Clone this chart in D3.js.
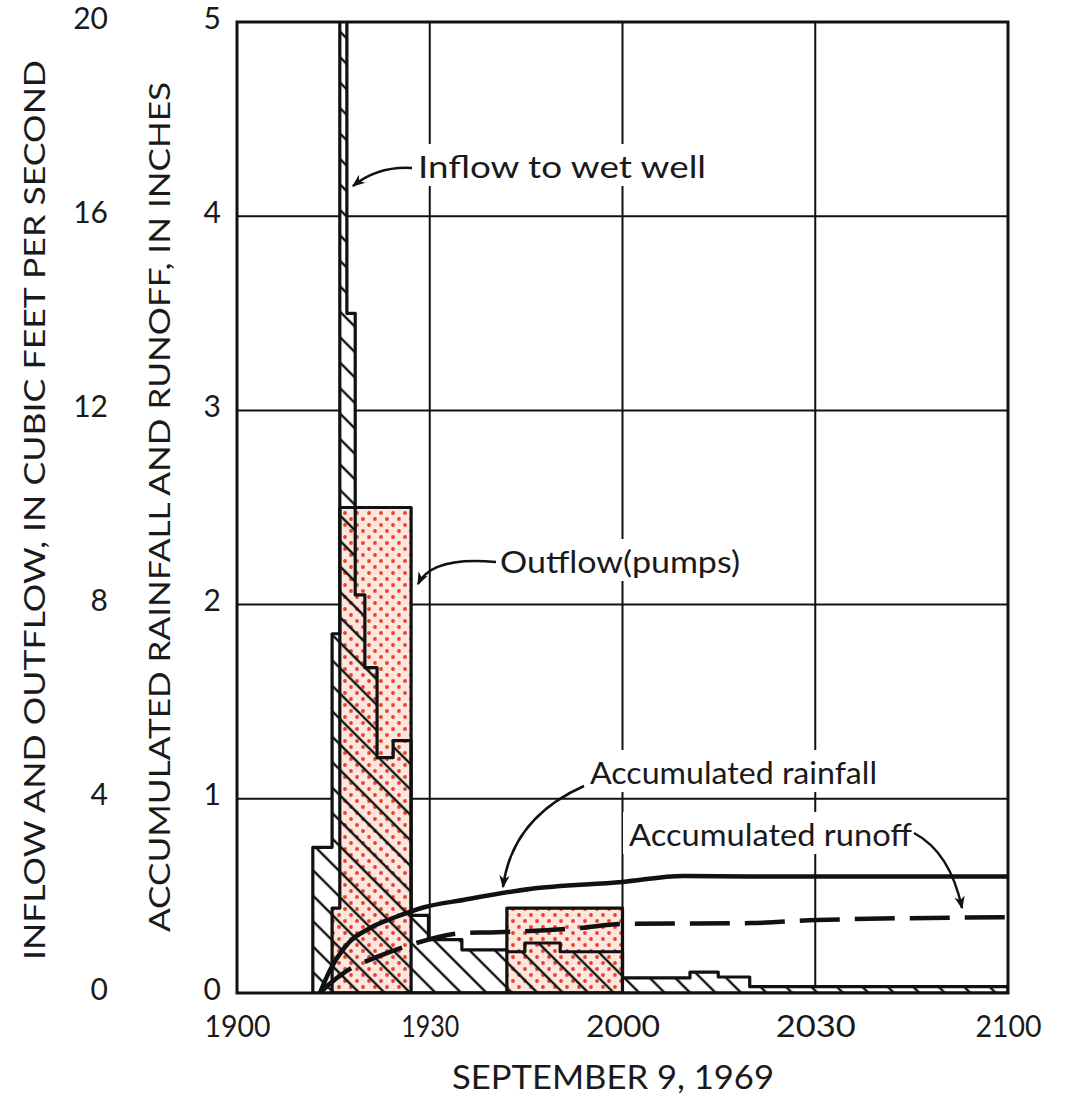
<!DOCTYPE html>
<html>
<head>
<meta charset="utf-8">
<script src="https://cdn.jsdelivr.net/npm/d3@7"></script>
<style>
  body { margin: 0; background: #fff; }
  text { font-family: Lato, 'DejaVu Sans', sans-serif; fill: #1a1a1a; }
</style>
</head>
<body>
<script>
// chart data (time in minutes after 1900)
var inflowTime = [11.8, 14.8, 16.0, 17.1, 18.4, 19.9, 21.8, 24.3, 27.1, 29.8, 35.0, 42.0, 44.8, 50.3, 60.0, 70.5, 74.9, 79.8, 120];
var inflowCfs  = [3.0, 7.4, 30, 14.0, 8.2, 6.7, 4.85, 5.2, 1.6, 1.1, 0.89, 0.85, 1.03, 0.85, 0.31, 0.43, 0.33, 0.13, 0.13];

var outflowTime = [14.8, 16.0, 27.1, 42.0, 60.0];
var outflowCfs  = [1.75, 10.0, 0, 1.75, 0];

var rainTime = [12.9, 14.5, 16.8, 21.0, 24.6, 29.3, 35.2, 45.6, 60.0, 69.4, 80, 120];
var rainIn   = [0, 0.12, 0.237, 0.34, 0.39, 0.443, 0.479, 0.536, 0.572, 0.603, 0.60, 0.60];

var runoffTime = [12.9, 14.2, 16.8, 21.8, 26.9, 35.2, 39.4, 53.4, 60.0, 79.8, 90.3, 120];
var runoffIn   = [0, 0.041, 0.108, 0.186, 0.247, 0.309, 0.312, 0.335, 0.356, 0.36, 0.376, 0.39];

var timeTicks = [0, 30, 60, 90, 120];
var timeLabels = ['1900', '1930', '2000', '2030', '2100'];
var timeLabelWidth = [66, 58, 74, 80, 66];
var cfsTicks = [0, 4, 8, 12, 16, 20];
var inchTicks = [0, 1, 2, 3, 4, 5];

// layout
var svgWidth = 1070, svgHeight = 1098;
var plotLeft = 237, plotRight = 1008, plotTop = 22, plotBottom = 993;

var svg = d3.select('body').append('svg')
    .attr('width', svgWidth)
    .attr('height', svgHeight);

var x = d3.scaleLinear().domain([0, 120]).range([plotLeft, plotRight]);
var yCfs = d3.scaleLinear().domain([0, 20]).range([plotBottom, plotTop]);
var yIn = d3.scaleLinear().domain([0, 5]).range([plotBottom, plotTop]);

var defs = svg.append('defs');

// diagonal hatch for inflow
var hatch = defs.append('pattern')
    .attr('id', 'hatch')
    .attr('patternUnits', 'userSpaceOnUse')
    .attr('width', 18).attr('height', 18)
    .attr('patternTransform', 'rotate(-45)');
hatch.append('line')
    .attr('x1', 2).attr('y1', 0).attr('x2', 2).attr('y2', 18)
    .attr('stroke', '#111').attr('stroke-width', 2.4);

// red dot screen for outflow
var dots = defs.append('pattern')
    .attr('id', 'dots')
    .attr('patternUnits', 'userSpaceOnUse')
    .attr('width', 12).attr('height', 12);
dots.append('rect').attr('width', 12).attr('height', 12).attr('fill', '#fce6de');
[[3, 3], [9, 9]].forEach(function(p) {
    dots.append('circle').attr('cx', p[0]).attr('cy', p[1]).attr('r', 1.9).attr('fill', '#e8402a');
});

defs.append('clipPath').attr('id', 'plotClip')
    .append('rect')
    .attr('x', plotLeft).attr('y', plotTop)
    .attr('width', plotRight - plotLeft).attr('height', plotBottom - plotTop);

defs.append('marker')
    .attr('id', 'arrow')
    .attr('markerUnits', 'userSpaceOnUse')
    .attr('viewBox', '0 0 10 10')
    .attr('refX', 9).attr('refY', 5)
    .attr('markerWidth', 15).attr('markerHeight', 13)
    .attr('orient', 'auto')
    .append('path')
    .attr('d', 'M0,1 L10,5 L0,9 L3,5 Z')
    .attr('fill', '#111');

// grid
var grid = svg.append('g');
grid.selectAll('.vgrid')
    .data(timeTicks)
    .enter().append('line')
    .attr('x1', d => x(d)).attr('x2', d => x(d))
    .attr('y1', plotTop).attr('y2', plotBottom)
    .attr('stroke', '#111').attr('stroke-width', 2);
grid.selectAll('.hgrid')
    .data(inchTicks)
    .enter().append('line')
    .attr('x1', plotLeft).attr('x2', plotRight)
    .attr('y1', d => yIn(d)).attr('y2', d => yIn(d))
    .attr('stroke', '#111').attr('stroke-width', 2);

// hydrograph data
var inflow = inflowTime.map((t, i) => ({t: t, v: inflowCfs[i]}));
var outflow = outflowTime.map((t, i) => ({t: t, v: outflowCfs[i]}));
var rain = rainTime.map((t, i) => ({t: t, v: rainIn[i]}));
var runoff = runoffTime.map((t, i) => ({t: t, v: runoffIn[i]}));

var stepArea = d3.area()
    .x(d => x(d.t))
    .y0(yCfs(0))
    .y1(d => yCfs(d.v))
    .curve(d3.curveStepAfter);

var marks = svg.append('g').attr('clip-path', 'url(#plotClip)');

marks.append('path').attr('d', stepArea(inflow)).attr('fill', '#fff');
marks.append('path').attr('d', stepArea(outflow)).attr('fill', 'url(#dots)');
marks.append('path').attr('d', stepArea(inflow)).attr('fill', 'url(#hatch)');
marks.append('path').attr('d', stepArea(inflow))
    .attr('fill', 'none').attr('stroke', '#111').attr('stroke-width', 3.2)
    .attr('stroke-linejoin', 'round');
marks.append('path').attr('d', stepArea(outflow))
    .attr('fill', 'none').attr('stroke', '#111').attr('stroke-width', 3.2)
    .attr('stroke-linejoin', 'round');

// accumulated curves
var accLine = d3.line()
    .x(d => x(d.t))
    .y(d => yIn(d.v))
    .curve(d3.curveMonotoneX);

marks.append('path').attr('d', accLine(rain))
    .attr('fill', 'none').attr('stroke', '#111').attr('stroke-width', 4.5)
    .attr('stroke-linecap', 'round');
marks.append('path').attr('d', accLine(runoff))
    .attr('fill', 'none').attr('stroke', '#111').attr('stroke-width', 4.5)
    .attr('stroke-dasharray', '40,15');

// frame
svg.append('rect')
    .attr('x', plotLeft).attr('y', plotTop)
    .attr('width', plotRight - plotLeft).attr('height', plotBottom - plotTop)
    .attr('fill', 'none').attr('stroke', '#111').attr('stroke-width', 3);

// annotations with white knock-out behind text
function label(txt, lx, ly, len, size) {
    var g = svg.append('g');
    var t = g.append('text')
        .attr('x', lx).attr('y', ly)
        .attr('font-size', size)
        .attr('textLength', len)
        .attr('lengthAdjust', 'spacingAndGlyphs')
        .text(txt);
    var b = t.node().getBBox();
    g.insert('rect', 'text')
        .attr('x', b.x - 6).attr('y', b.y - 4)
        .attr('width', b.width + 12).attr('height', b.height + 6)
        .attr('fill', '#fff');
}
label('Inflow to wet well', 418, 178, 288, 30);
label('Outflow(pumps)', 500, 573, 240, 30);
label('Accumulated rainfall', 590, 784, 287, 30);
label('Accumulated runoff', 629, 846, 283, 30);

var arrows = [
    'M412,168 Q378,166 353,186',
    'M496,562 Q432,556 418,584',
    'M584,786 Q512,818 503,887',
    'M914,833 Q950,852 962,908'
];
svg.selectAll('.arrow')
    .data(arrows)
    .enter().append('path')
    .attr('d', d => d)
    .attr('fill', 'none').attr('stroke', '#111').attr('stroke-width', 2.5)
    .attr('marker-end', 'url(#arrow)');

// axes
var xAxis = svg.append('g')
    .attr('transform', `translate(0, ${plotBottom})`)
    .call(d3.axisBottom(x).tickValues(timeTicks).tickSize(0).tickPadding(22)
        .tickFormat((d, i) => timeLabels[i]));
xAxis.select('.domain').remove();
xAxis.selectAll('text')
    .attr('font-size', 31)
    .attr('fill', '#1a1a1a')
    .style('font-family', "Lato, 'DejaVu Sans', sans-serif")
    .attr('textLength', (d, i) => timeLabelWidth[i])
    .attr('lengthAdjust', 'spacingAndGlyphs');

var cfsAxis = svg.append('g')
    .attr('transform', 'translate(108, 0)')
    .call(d3.axisLeft(yCfs).tickValues(cfsTicks).tickSize(0).tickPadding(0)
        .tickFormat(d3.format('d')));
cfsAxis.select('.domain').remove();
cfsAxis.selectAll('text')
    .attr('font-size', 30)
    .attr('dy', '0.2em')
    .attr('fill', '#1a1a1a')
    .style('font-family', "Lato, 'DejaVu Sans', sans-serif");

var inchAxis = svg.append('g')
    .attr('transform', 'translate(221, 0)')
    .call(d3.axisLeft(yIn).tickValues(inchTicks).tickSize(0).tickPadding(0)
        .tickFormat(d3.format('d')));
inchAxis.select('.domain').remove();
inchAxis.selectAll('text')
    .attr('font-size', 30)
    .attr('dy', '0.2em')
    .attr('fill', '#1a1a1a')
    .style('font-family', "Lato, 'DejaVu Sans', sans-serif");

// axis titles
svg.append('text')
    .attr('transform', 'translate(45, 510) rotate(-90)')
    .attr('text-anchor', 'middle')
    .attr('font-size', 29)
    .attr('textLength', 900)
    .attr('lengthAdjust', 'spacingAndGlyphs')
    .text('INFLOW AND OUTFLOW, IN CUBIC FEET PER SECOND');

svg.append('text')
    .attr('transform', 'translate(170, 507) rotate(-90)')
    .attr('text-anchor', 'middle')
    .attr('font-size', 29)
    .attr('textLength', 850)
    .attr('lengthAdjust', 'spacingAndGlyphs')
    .text('ACCUMULATED RAINFALL AND RUNOFF, IN INCHES');

svg.append('text')
    .attr('x', 613).attr('y', 1089)
    .attr('text-anchor', 'middle')
    .attr('font-size', 32)
    .attr('textLength', 322)
    .attr('lengthAdjust', 'spacingAndGlyphs')
    .text('SEPTEMBER 9, 1969');
</script>
</body>
</html>
